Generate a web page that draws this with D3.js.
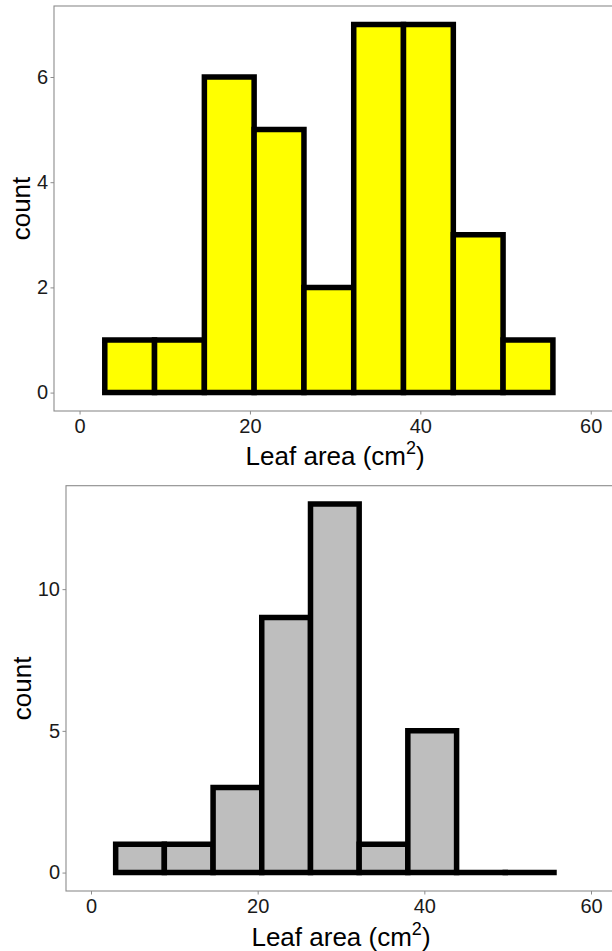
<!DOCTYPE html>
<html>
<head>
<meta charset="utf-8">
<script src="https://cdn.jsdelivr.net/npm/d3@7"></script>
<style>
  html, body { margin: 0; padding: 0; background: #fff; }
  svg { display: block; }
</style>
</head>
<body>
<div id="chart"></div>
<script>
// ---- data ----
const binEdges = [2.96, 8.80, 14.65, 20.49, 26.34, 32.18, 38.02, 43.87, 49.71, 55.56];
const topCounts = [1, 1, 6, 5, 2, 7, 7, 3, 1];
const bottomCounts = [1, 1, 3, 9, 13, 1, 5, 0, 0];
const xTicks = [0, 20, 40, 60];
const topYTicks = [0, 2, 4, 6];
const bottomYTicks = [0, 5, 10];
const xTitle = "Leaf area (cm";
const xTitleSup = "2";
const yTitle = "count";

const W = 612, H = 951;
const svg = d3.select("#chart").append("svg")
  .attr("width", W).attr("height", H)
  .style("font-family", "'Liberation Sans', Arial, sans-serif");

function panel(opts) {
  const { counts, fill, yTicks, left, top, bottom, right, yMax, titleBase, yTitleX } = opts;
  const x = d3.scaleLinear().domain([-3, 63]).range([left, right]);
  const yExp = yMax * 0.05;
  const y = d3.scaleLinear().domain([-yExp, yMax + yExp]).range([bottom, top]);
  const g = svg.append("g");

  const bins = counts.map((c, i) => ({ x0: binEdges[i], x1: binEdges[i + 1], c }));

  // bars
  g.selectAll("path.bar").data(bins).enter().append("path")
    .attr("class", "bar")
    .attr("d", d => {
      const p = d3.path();
      const x0 = x(d.x0), x1 = x(d.x1), y0 = y(0), y1 = y(d.c);
      if (d.c === 0) { p.moveTo(x0, y0); p.lineTo(x1, y0); return p.toString(); }
      p.rect(x0, y1, x1 - x0, y0 - y1);
      return p.toString();
    })
    .attr("fill", d => d.c === 0 ? "none" : fill)
    .attr("stroke", "#000")
    .attr("stroke-width", 5.5)
    .attr("stroke-linejoin", "miter")
    .attr("stroke-linecap", "square");

  // panel border
  g.append("rect")
    .attr("x", left).attr("y", top)
    .attr("width", right - left).attr("height", bottom - top)
    .attr("fill", "none").attr("stroke", "#8c8c8c").attr("stroke-width", 1.1);

  // x axis
  const xAxis = g.append("g").attr("transform", `translate(0,${bottom})`)
    .call(d3.axisBottom(x).tickValues(xTicks).tickSize(3.5).tickPadding(4).tickFormat(d3.format("d")));
  xAxis.select(".domain").remove();
  xAxis.selectAll("line").attr("stroke", "#8c8c8c");
  xAxis.selectAll("text").attr("font-size", 20).attr("fill", "#1a1a1a")
    .attr("font-family", "'Liberation Sans', Arial, sans-serif");

  // y axis
  const yAxis = g.append("g").attr("transform", `translate(${left},0)`)
    .call(d3.axisLeft(y).tickValues(yTicks).tickSize(3.5).tickPadding(2.5).tickFormat(d3.format("d")));
  yAxis.select(".domain").remove();
  yAxis.selectAll("line").attr("stroke", "#8c8c8c");
  yAxis.selectAll("text").attr("font-size", 20).attr("fill", "#1a1a1a")
    .attr("font-family", "'Liberation Sans', Arial, sans-serif");

  // x title
  const t = g.append("text")
    .attr("x", (left + right) / 2).attr("y", titleBase)
    .attr("text-anchor", "middle").attr("font-size", 26).attr("fill", "#000");
  t.append("tspan").text(xTitle);
  t.append("tspan").attr("font-size", 18).attr("dy", -11).text(xTitleSup);
  t.append("tspan").attr("dy", 11).text(")");

  // y title
  g.append("text")
    .attr("transform", `translate(${yTitleX},${(top + bottom) / 2}) rotate(-90)`)
    .attr("text-anchor", "middle").attr("font-size", 26).attr("fill", "#000")
    .text(yTitle);
}

panel({ counts: topCounts, fill: "#ffff00", yTicks: topYTicks,
        left: 54, right: 616.3, top: 6, bottom: 411, yMax: 7,
        titleBase: 465, yTitleX: 30 });
panel({ counts: bottomCounts, fill: "#bebebe", yTicks: bottomYTicks,
        left: 66, right: 616, top: 485.7, bottom: 891, yMax: 13,
        titleBase: 946, yTitleX: 31 });
</script>
</body>
</html>
